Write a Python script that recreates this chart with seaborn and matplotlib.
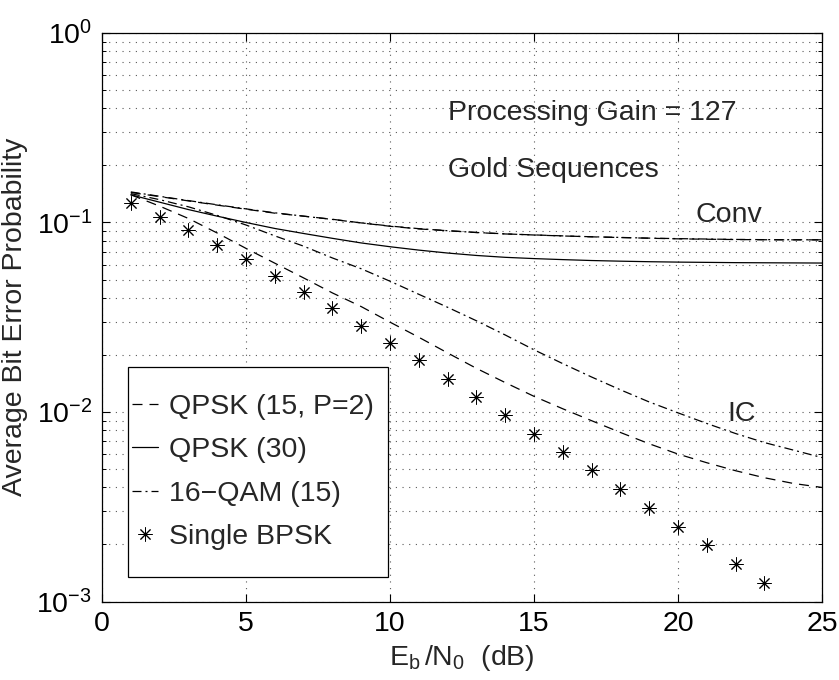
import numpy as np
import pandas as pd
import matplotlib
matplotlib.use("Agg")
import matplotlib.pyplot as plt
import seaborn as sns
from matplotlib.patches import Rectangle
from matplotlib.lines import Line2D

# ---------------- data ----------------
ebn0 = list(range(1, 26))
ebn0_bpsk = list(range(1, 24))

conv_qpsk15 = [0.144, 0.137, 0.130, 0.1235, 0.1175, 0.112, 0.108, 0.104, 0.0995, 0.0955,
               0.0925, 0.0905, 0.0885, 0.087, 0.086, 0.085, 0.084, 0.0833, 0.0826, 0.082,
               0.0816, 0.0813, 0.0811, 0.081, 0.081]
conv_16qam = [0.145, 0.1375, 0.1305, 0.124, 0.118, 0.1125, 0.108, 0.1038, 0.0995, 0.0958,
              0.0928, 0.0905, 0.0886, 0.0871, 0.0859, 0.0849, 0.0841, 0.0834, 0.0827, 0.0822,
              0.0818, 0.0814, 0.0812, 0.0811, 0.0810]
conv_qpsk30 = [0.140, 0.128, 0.117, 0.108, 0.100, 0.093, 0.0875, 0.0825, 0.078, 0.0745,
               0.0715, 0.069, 0.067, 0.0655, 0.0645, 0.0637, 0.063, 0.0625, 0.0621, 0.0618,
               0.0616, 0.0614, 0.0613, 0.0612, 0.0611]
ic_qpsk15 = [0.140, 0.122, 0.105, 0.088, 0.073, 0.061, 0.051, 0.0425, 0.036, 0.0298,
             0.0248, 0.0205, 0.0170, 0.0143, 0.0121, 0.0104, 0.0090, 0.0078, 0.0068, 0.0060,
             0.0054, 0.0049, 0.0045, 0.0042, 0.0040]
ic_16qam = [0.142, 0.132, 0.121, 0.109, 0.097, 0.085, 0.075, 0.065, 0.057, 0.049,
            0.0418, 0.0357, 0.0303, 0.0255, 0.0213, 0.0180, 0.0153, 0.0131, 0.0113, 0.0099,
            0.0087, 0.0077, 0.0069, 0.0063, 0.00575]
single_bpsk = [0.126, 0.107, 0.0914, 0.0765, 0.064, 0.0525, 0.0432, 0.0352, 0.0286, 0.0232,
               0.0187, 0.0150, 0.0120, 0.00963, 0.0077, 0.00614, 0.00492, 0.00392, 0.00311,
               0.00248, 0.00198, 0.00157, 0.00125]

legend_labels = ["QPSK (15, P=2)", "QPSK (30)", "16\u2212QAM (15)", "Single BPSK"]
x_ticks = [0, 5, 10, 15, 20, 25]

# ---------------- style ----------------
sns.set_style("ticks")
FS = 20.5
plt.rcParams.update({
    "font.family": ["Liberation Sans", "DejaVu Sans"],
    "mathtext.fontset": "custom",
    "mathtext.rm": "Liberation Sans",
    "mathtext.it": "Liberation Sans:italic",
    "mathtext.default": "regular",
    "font.size": FS,
    "axes.edgecolor": "black",
    "axes.linewidth": 0.9,
    "xtick.direction": "in",
    "ytick.direction": "in",
    "xtick.top": True,
    "ytick.right": True,
    "xtick.color": "black",
    "ytick.color": "black",
})

fig = plt.figure(figsize=(8.39, 6.80), dpi=100)
ax = fig.add_axes([0.1216, 0.1154, 0.8581, 0.8361])

LW = 0.9
dashed = (0, (8, 5.6))
dashdot = (0, (7.2, 3.2, 1.6, 3.2))
STAR = (8, 2, 0)
MS, MEW = 10, 0.7

# conventional receiver curves
sns.lineplot(x=ebn0, y=conv_qpsk15, ax=ax, color="black", lw=LW, linestyle=dashed)
sns.lineplot(x=ebn0, y=conv_16qam, ax=ax, color="black", lw=LW, linestyle=dashdot)
sns.lineplot(x=ebn0, y=conv_qpsk30, ax=ax, color="black", lw=LW, linestyle="-")
# interference cancellation curves
sns.lineplot(x=ebn0, y=ic_qpsk15, ax=ax, color="black", lw=LW, linestyle=dashed)
sns.lineplot(x=ebn0, y=ic_16qam, ax=ax, color="black", lw=LW, linestyle=dashdot)
# single user BPSK
sns.lineplot(x=ebn0_bpsk, y=single_bpsk, ax=ax, color="black", linestyle="",
             marker=STAR, markersize=MS, markeredgewidth=MEW,
             markeredgecolor="black", markerfacecolor="black")

ax.set_yscale("log")
ax.set_xlim(0, 25)
ax.set_ylim(1e-3, 1)
ax.set_xticks(x_ticks)
ax.set_xticklabels([str(t) for t in x_ticks])
ax.yaxis.set_major_locator(matplotlib.ticker.LogLocator(base=10, numticks=10))
ax.yaxis.set_minor_locator(matplotlib.ticker.LogLocator(base=10, subs=np.arange(2, 10), numticks=20))
ax.yaxis.set_minor_formatter(matplotlib.ticker.NullFormatter())
ax.tick_params(which="major", length=5.5, width=0.8, labelsize=FS, pad=7)
ax.tick_params(which="minor", length=3, width=0.7)
ax.tick_params(axis="x", which="minor", bottom=False, top=False)

grid_kw = dict(color="0.35", linestyle=(0, (1, 5)), linewidth=0.8)
ax.xaxis.grid(True, which="major", **grid_kw)
ax.yaxis.grid(True, which="major", **grid_kw)
ax.yaxis.grid(True, which="minor", **grid_kw)
for s in ax.spines.values():
    s.set_visible(True)
    s.set_color("black")
    s.set_zorder(10)

ax.set_xlabel(r"$\mathregular{E_b\,/N_0}$  (dB)", fontsize=FS, labelpad=4)
ax.set_ylabel("Average Bit Error Probability", fontsize=FS, labelpad=6)

ax.text(12, 0.378, "Processing Gain = 127", fontsize=FS, va="center", ha="left")
ax.text(12, 0.189, "Gold Sequences", fontsize=FS, va="center", ha="left")
ax.text(20.6, 0.11, "Conv", fontsize=FS, va="center", ha="left")
ax.text(21.7, 0.0098, "IC", fontsize=FS, va="center", ha="left")

# legend box (MATLAB style)
x0, y0, w, h = 0.0361, 0.0431, 0.3611, 0.3694
ax.add_patch(Rectangle((x0, y0), w, h, transform=ax.transAxes, facecolor="white",
                       edgecolor="black", lw=0.9, zorder=5))
handles = [
    Line2D([], [], color="black", lw=LW, linestyle=dashed),
    Line2D([], [], color="black", lw=LW, linestyle="-"),
    Line2D([], [], color="black", lw=LW, linestyle=dashdot),
    Line2D([], [], color="black", linestyle="", marker=STAR, markersize=MS,
           markeredgewidth=MEW),
]
leg = ax.legend(handles, legend_labels, loc="center left",
                bbox_to_anchor=(x0, y0, w, h), bbox_transform=ax.transAxes,
                frameon=False, fontsize=FS, handlelength=0.9, handletextpad=0.4,
                labelspacing=0.61, borderpad=0.15, borderaxespad=0.0)
leg.set_zorder(6)

fig.savefig("out.png", dpi=100)
